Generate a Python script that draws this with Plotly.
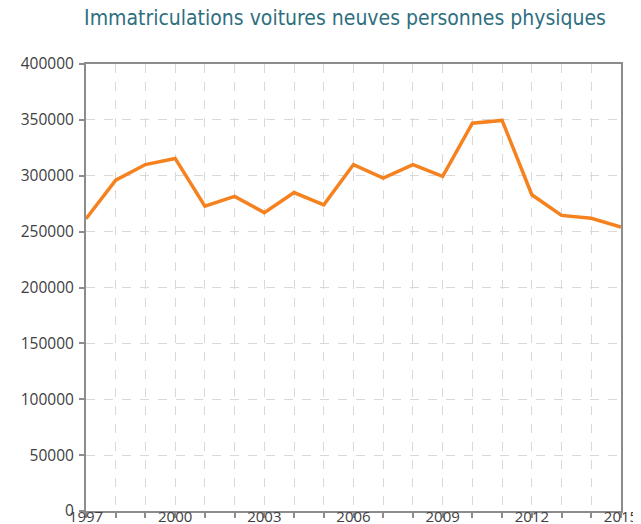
import plotly.graph_objects as go

years = list(range(1997, 2016))
values = [261500, 296000, 310000, 315500, 272700, 281500, 267000, 285000, 274000,
          310000, 298000, 310000, 299500, 347000, 349500, 283000, 264500, 262000, 254000]

title_text = "Immatriculations voitures neuves personnes physiques"
x_ticks = [1997, 2000, 2003, 2006, 2009, 2012, 2015]
y_ticks = [0, 50000, 100000, 150000, 200000, 250000, 300000, 350000, 400000]

fig = go.Figure()
fig.add_trace(go.Scatter(x=years, y=values, mode="lines",
                         line=dict(color="#f5821f", width=3.5), hoverinfo="x+y"))

axis_common = dict(showline=True, linecolor="#8c8c8c", linewidth=2, mirror=True,
                   ticks="outside", ticklen=5, tickcolor="#8c8c8c", tickwidth=1.5,
                   showgrid=True, gridcolor="#d9d9d9", griddash="dash", gridwidth=1,
                   zeroline=False, automargin=False)

# page has an 8px body margin, so the figure is sized/offset to compensate
fig.update_layout(
    width=633, height=516,
    margin=dict(l=78, r=20, t=56, b=13, autoexpand=False),
    plot_bgcolor="white", paper_bgcolor="white",
    showlegend=False,
    title=dict(text=title_text, x=337 / 633, xanchor="center", y=1 - 10 / 516, yref="container",
               yanchor="middle", automargin=False,
               font=dict(family="DejaVu Sans Condensed, DejaVu Sans", size=21, color="#2e6f80")),
    xaxis=dict(range=[1997, 2015], tickvals=x_ticks, tickformat="d", ticklabelstandoff=-14,
               tickfont=dict(family="Open Sans, DejaVu Sans", size=15, color="#404040"),
               minor=dict(dtick=1, tick0=1997, showgrid=True, gridcolor="#d9d9d9",
                          griddash="dash", ticks="outside", ticklen=5, tickcolor="#8c8c8c"),
               **axis_common),
    yaxis=dict(range=[0, 400000], tickvals=y_ticks, tickformat="d", ticklabelstandoff=2,
               tickfont=dict(family="Open Sans, DejaVu Sans", size=15.5, color="#404040"),
               **axis_common),
)

fig.write_html("out.html")
